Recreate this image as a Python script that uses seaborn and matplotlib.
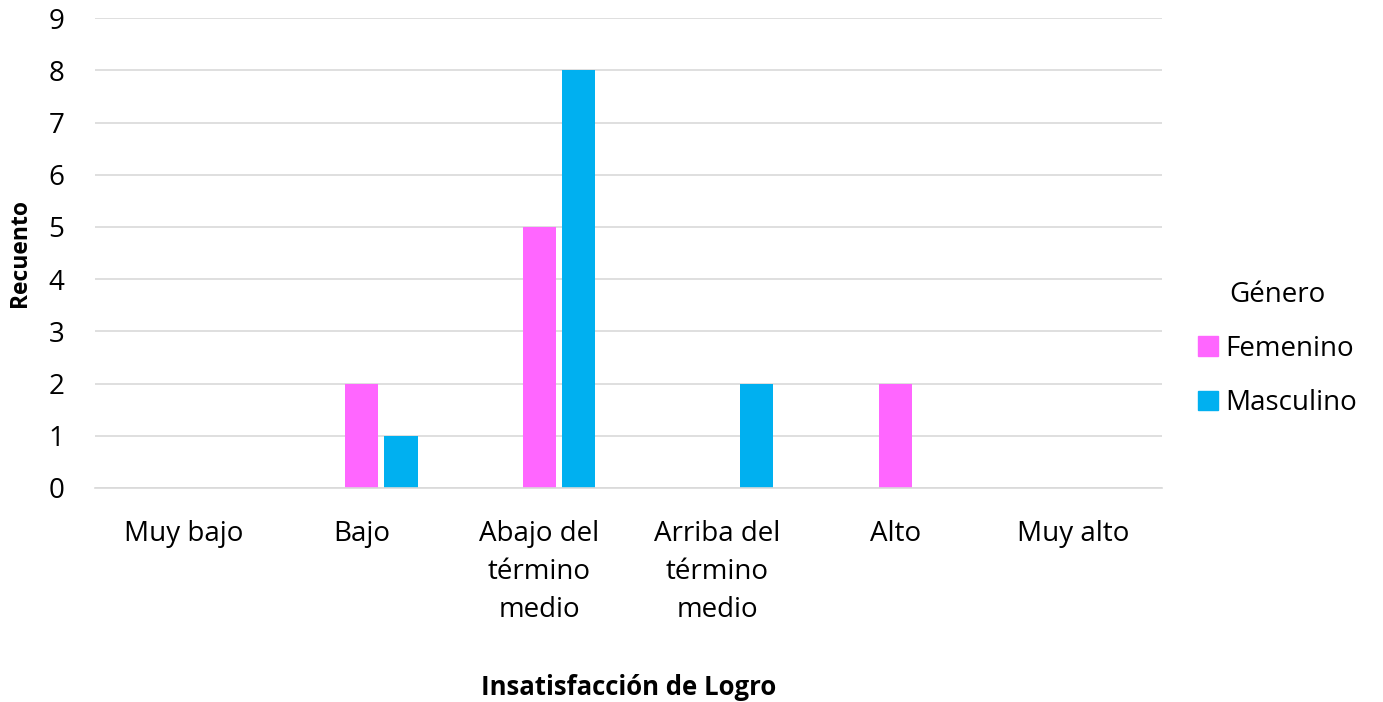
import pandas as pd
import matplotlib.pyplot as plt
import seaborn as sns
from matplotlib.patches import Patch

# Datos
categorias = ['Muy bajo', 'Bajo', 'Abajo del\ntérmino\nmedio', 'Arriba del\ntérmino\nmedio', 'Alto', 'Muy alto']
femenino = [0, 2, 5, 0, 2, 0]
masculino = [0, 1, 8, 2, 0, 0]
vacio = [0, 0, 0, 0, 0, 0]
generos = ['_vacio', 'Femenino', 'Masculino']
colores = {'_vacio': '#FFFFFF', 'Femenino': '#FF66FF', 'Masculino': '#00B0F0'}

df = pd.DataFrame({
    'Categoria': categorias * 3,
    'Genero': ['_vacio'] * 6 + ['Femenino'] * 6 + ['Masculino'] * 6,
    'Recuento': vacio + femenino + masculino,
})

sns.set_theme(style='white')
plt.rcParams['font.family'] = ['Open Sans', 'DejaVu Sans']
plt.rcParams['text.color'] = 'black'
plt.rcParams['axes.labelcolor'] = 'black'

fig = plt.figure(figsize=(13.83, 7.02), dpi=100)
ax = fig.add_axes([0.0687, 0.305, 0.7715, 0.669])

sns.barplot(data=df, x='Categoria', y='Recuento', hue='Genero', hue_order=generos,
            palette=colores, saturation=1, linewidth=0, width=0.66, gap=0.15,
            ax=ax, legend=False)

ax.set_ylim(0, 9)
ax.set_yticks(range(0, 10))
ax.yaxis.grid(True, color='#D9D9D9', linewidth=1.2)
ax.set_axisbelow(True)
for s in ['top', 'right', 'left']:
    ax.spines[s].set_visible(False)
ax.spines['bottom'].set_color('#D9D9D9')
ax.spines['bottom'].set_linewidth(1.2)
ax.tick_params(axis='both', length=0, labelsize=20, colors='black')
ax.tick_params(axis='x', pad=23)
ax.tick_params(axis='y', pad=22)
for lbl in ax.get_xticklabels():
    lbl.set_linespacing(1.47)

ax.set_xlabel('Insatisfacción de Logro', fontsize=18.5, fontweight='bold', labelpad=36)
ax.set_ylabel('Recuento', fontsize=16.5, fontweight='bold', labelpad=12)

handles = [Patch(color=colores['Femenino'], label='Femenino'),
           Patch(color=colores['Masculino'], label='Masculino')]
fig.legend(handles=handles, title='Género', loc='center left', bbox_to_anchor=(0.8585, 0.503),
           frameon=False, fontsize=20, title_fontsize=20, handlelength=0.7, handleheight=0.7,
           handletextpad=0.25, labelspacing=0.95, borderaxespad=0)

fig.savefig('out.png', dpi=100)
